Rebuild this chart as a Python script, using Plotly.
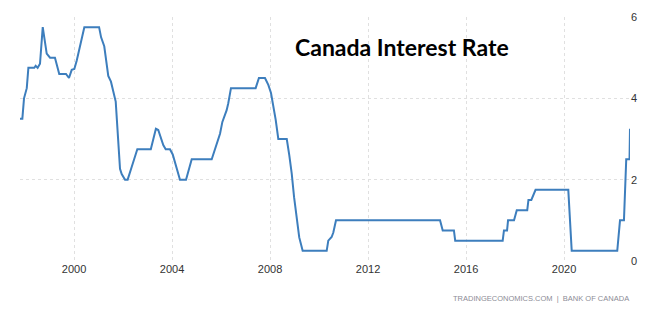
import plotly.graph_objects as go

# Vertices of the rate line (date, percent)
dates = [
    "1997-10-17", "1997-11-21", "1997-12-16", "1998-01-26", "1998-02-19", "1998-05-18",
    "1998-06-08", "1998-07-07", "1998-08-11", "1998-09-21", "1998-11-19", "1999-01-08",
    "1999-03-22", "1999-05-25", "1999-09-03", "1999-10-17", "1999-11-27", "2000-01-05",
    "2000-02-10", "2000-03-29", "2000-05-03", "2000-06-02", "2001-01-08", "2001-02-07",
    "2001-03-26", "2001-05-01", "2001-05-25", "2001-07-04", "2001-08-23", "2001-09-13",
    "2001-11-16", "2001-12-11", "2002-01-30", "2002-03-10", "2002-05-09", "2002-08-01",
    "2003-02-18", "2003-03-26", "2003-05-05", "2003-06-09", "2003-07-15", "2003-08-23",
    "2003-09-28", "2003-12-01", "2004-01-11", "2004-02-15", "2004-03-19", "2004-04-28",
    "2004-07-27", "2004-08-31", "2004-10-20", "2005-08-14", "2005-10-02", "2005-11-12",
    "2005-12-16", "2006-01-20", "2006-02-19", "2006-03-25", "2006-04-18", "2006-05-28",
    "2007-05-31", "2007-07-19", "2007-10-17", "2007-12-06", "2008-01-15", "2008-02-19",
    "2008-03-25", "2008-05-03", "2008-09-06", "2008-10-14", "2008-11-19", "2008-12-24",
    "2009-02-03", "2009-03-11", "2009-05-01", "2010-04-24", "2010-05-18", "2010-07-07",
    "2010-08-01", "2010-09-10", "2014-12-09", "2015-01-18", "2015-07-04", "2015-07-23",
    "2017-06-30", "2017-07-19", "2017-09-03", "2017-09-18", "2017-12-16", "2018-01-26",
    "2018-07-01", "2018-07-19", "2018-08-31", "2018-11-02", "2020-03-04", "2020-04-24",
    "2022-03-04", "2022-03-19", "2022-04-14", "2022-06-12", "2022-07-16", "2022-09-03",
    "2022-09-10",
]
rates = [
    3.5, 3.5, 4.0, 4.25, 4.75, 4.75,
    4.8, 4.75, 4.85, 5.75, 5.1, 5.0,
    5.0, 4.6, 4.6, 4.5, 4.7, 4.72,
    4.93, 5.28, 5.5, 5.75, 5.75, 5.5,
    5.28, 4.83, 4.55, 4.41, 4.08, 3.92,
    2.27, 2.14, 2.0, 2.0, 2.31, 2.75,
    2.75, 3.0, 3.25, 3.22, 3.05, 2.85,
    2.75, 2.75, 2.62, 2.43, 2.23, 2.0,
    2.0, 2.2, 2.5, 2.5, 2.75, 3.0,
    3.13, 3.42, 3.55, 3.71, 3.88, 4.25,
    4.25, 4.5, 4.5, 4.33, 4.13, 3.84,
    3.47, 3.0, 3.0, 2.6, 2.15, 1.57,
    1.0, 0.58, 0.25, 0.25, 0.5, 0.59,
    0.7, 1.0, 1.0, 0.75, 0.75, 0.5,
    0.5, 0.75, 0.75, 1.0, 1.0, 1.25,
    1.25, 1.5, 1.5, 1.75, 1.75, 0.25,
    0.25, 0.5, 1.0, 1.0, 2.5, 2.5,
    3.25,
]

x_tick_vals = ["2000-01-01", "2004-01-01", "2008-01-01", "2012-01-01", "2016-01-01", "2020-01-01"]
x_tick_text = ["2000", "2004", "2008", "2012", "2016", "2020"]
y_tick_vals = [0, 2, 4, 6]
y_tick_text = ["0", "2", "4", "6"]

title_text = "Canada Interest Rate"
source_text = "TRADINGECONOMICS.COM  |  BANK OF CANADA"

fig = go.Figure()
fig.add_trace(go.Scatter(
    x=dates, y=rates, mode="lines",
    line=dict(color="#3d7ebd", width=2),
    hoverinfo="skip",
))

fig.update_layout(
    width=672, height=324,
    margin=dict(l=20, r=42, t=17, b=63),
    paper_bgcolor="white", plot_bgcolor="white",
    showlegend=False,
    font=dict(family="Liberation Sans, Arial, sans-serif", size=11, color="#333333"),
)
fig.update_xaxes(
    type="date",
    range=[dates[0], dates[-1]],
    tickmode="array", tickvals=x_tick_vals, ticktext=x_tick_text,
    showgrid=True, gridcolor="#e0e0e0", griddash="dot", gridwidth=1,
    showline=False, zeroline=False, ticks="",
    tickfont=dict(size=11, color="#333333"),
)
fig.update_yaxes(
    range=[0, 6], side="right",
    tickmode="array", tickvals=y_tick_vals, ticktext=y_tick_text,
    showgrid=True, gridcolor="#e0e0e0", griddash="dot", gridwidth=1,
    showline=False, zeroline=False, ticks="",
    tickfont=dict(size=11, color="#333333"),
)
fig.add_annotation(
    text=title_text, xref="paper", yref="paper",
    x=0.626, y=0.878, xanchor="center", yanchor="middle", showarrow=False,
    font=dict(family="Lato, Open Sans, sans-serif", size=23, color="#000000", weight="bold"),
)
fig.add_annotation(
    text=source_text, xref="paper", yref="paper",
    x=1.002, y=-0.153, xanchor="right", yanchor="middle", showarrow=False,
    font=dict(family="Liberation Sans, Arial, sans-serif", size=7.5, color="#8c8c96"),
)

fig.write_html("out.html")
